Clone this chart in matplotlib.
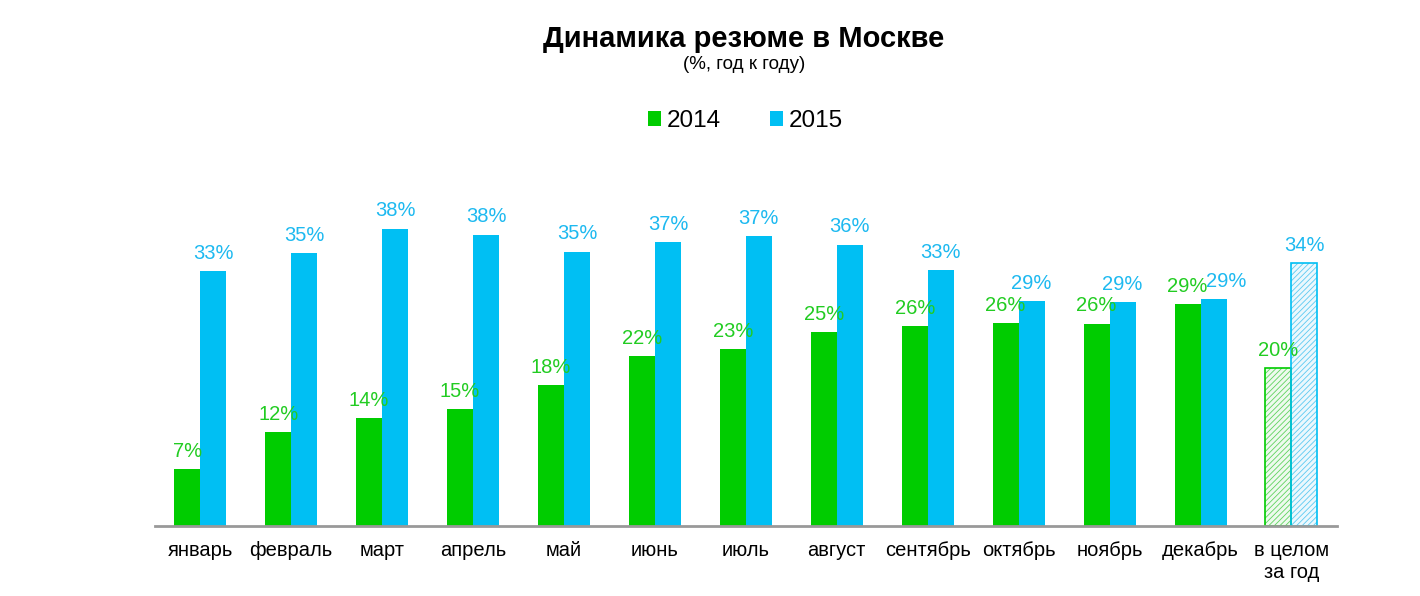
import numpy as np
import matplotlib.pyplot as plt

plt.rcParams["font.family"] = ["Liberation Sans", "DejaVu Sans"]
plt.rcParams["hatch.linewidth"] = 0.6

# data
months = ["январь", "февраль", "март", "апрель", "май", "июнь", "июль",
          "август", "сентябрь", "октябрь", "ноябрь", "декабрь", "в целом\nза год"]
v2014 = [7.3, 12.1, 13.9, 15.1, 18.2, 21.9, 22.8, 25.0, 25.8, 26.2, 26.1, 28.6, 20.4]
v2015 = [32.9, 35.2, 38.4, 37.6, 35.4, 36.6, 37.4, 36.3, 33.0, 29.0, 28.9, 29.3, 33.9]
labels2014 = ["7%", "12%", "14%", "15%", "18%", "22%", "23%", "25%", "26%", "26%", "26%", "29%", "20%"]
labels2015 = ["33%", "35%", "38%", "38%", "35%", "37%", "37%", "36%", "33%", "29%", "29%", "29%", "34%"]

green = "#00CC00"
blue = "#00BFF3"
green_txt = "#22CC22"
blue_txt = "#1DB9F0"

fig = plt.figure(figsize=(14.2, 5.96), dpi=100)
ax = fig.add_axes([0.109, 0.1174, 0.8325, 0.52])

x = np.arange(len(months))
w = 0.286
n = len(months) - 1

# monthly bars
ax.bar(x[:n] - w/2, v2014[:n], w, color=green, label="2014")
ax.bar(x[:n] + w/2, v2015[:n], w, color=blue, label="2015")

# whole year (hatched): light hatch first, then a solid outline on top
ax.bar(x[n] - w/2, v2014[n], w, facecolor="#eefaee", edgecolor="#5fd35f",
       hatch="//////", linewidth=0)
ax.bar(x[n] + w/2, v2015[n], w, facecolor="#ecf8fd", edgecolor="#5ccaf2",
       hatch="//////", linewidth=0)
ax.bar(x[n] - w/2, v2014[n], w, fill=False, edgecolor=green, linewidth=1.2)
ax.bar(x[n] + w/2, v2015[n], w, fill=False, edgecolor=blue, linewidth=1.2)

# small sideways nudge (points) where labels would collide
nudge2015 = {11: 9}

for i in range(len(months)):
    ax.annotate(labels2014[i], (x[i] - w/2, v2014[i]), xytext=(0, 6),
                textcoords="offset points", ha="center", va="bottom",
                color=green_txt, fontsize=14.5)
    ax.annotate(labels2015[i], (x[i] + w/2, v2015[i]), xytext=(nudge2015.get(i, 0), 6),
                textcoords="offset points", ha="center", va="bottom",
                color=blue_txt, fontsize=14.5)

ax.set_xlim(-0.5, 12.5)
ax.set_ylim(0, 40)
ax.set_xticks(x)
ax.set_xticklabels(months, fontsize=14.5)
ax.tick_params(axis="x", length=0, pad=11)
ax.set_yticks([])
for s in ["top", "right", "left"]:
    ax.spines[s].set_visible(False)
ax.spines["bottom"].set_color("#999999")
ax.spines["bottom"].set_linewidth(2)

fig.text(0.524, 0.935, "Динамика резюме в Москве", ha="center", va="center",
         fontsize=21, fontweight="bold")
fig.text(0.524, 0.892, "(%, год к году)", ha="center", va="center", fontsize=13.5)

leg = fig.legend(loc="center", bbox_to_anchor=(0.525, 0.797), ncol=2, frameon=False,
                 fontsize=17.5, handlelength=0.55, handleheight=0.55,
                 handletextpad=0.25, columnspacing=2.0)

fig.savefig("out.png", dpi=100)
